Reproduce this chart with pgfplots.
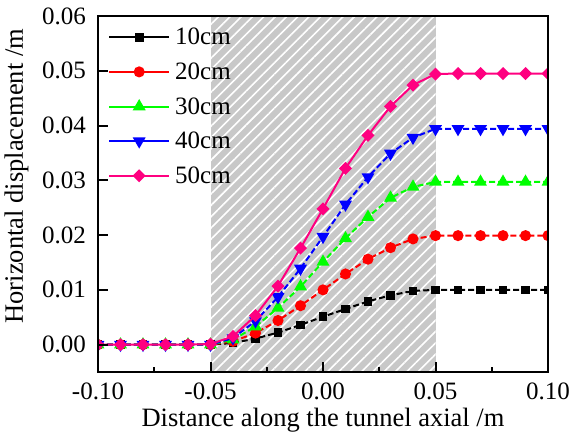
\documentclass[border=0pt]{standalone}
\usepackage{fontspec}
\setmainfont{Liberation Serif}
\usepackage{pgfplots}
\pgfplotsset{compat=1.18}
\usetikzlibrary{patterns.meta}
\definecolor{hatchgray}{RGB}{200,200,200}
\definecolor{cgreen}{RGB}{0,255,0}
\definecolor{cpink}{RGB}{255,0,128}
\begin{document}
\begin{tikzpicture}
\useasboundingbox (-98pt,-67pt) rectangle (474pt,372pt);
\begin{axis}[
  scale only axis,
  width=450pt, height=356pt,
  xmin=-0.1, xmax=0.1, ymin=-0.005, ymax=0.06,
  xtick={-0.1,-0.05,0,0.05,0.1},
  minor x tick num=1,
  ytick={0,0.01,0.02,0.03,0.04,0.05,0.06},
  scaled ticks=false,
  xtick pos=bottom, ytick pos=left,
  tick align=inside,
  major tick length=10pt, minor tick length=5pt,
  every tick/.style={line width=2pt, black},
  axis line style={line width=2pt},
  axis on top,
  clip marker paths=true,
  /pgf/number format/.cd, fixed, fixed zerofill, precision=2, assume math mode=true,
  /pgfplots/.cd,
  ticklabel style={font=\fontsize{25}{30}\selectfont, inner sep=0pt},
  yticklabel style={anchor=east, xshift=-12pt},
  xticklabel style={anchor=north, yshift=-11pt},
  xlabel={Distance along the tunnel axial /m},
  ylabel={Horizontal displacement /m},
  label style={font=\fontsize{26.5}{32}\selectfont},
  xlabel style={at={(rel axis cs:0.5,0)}, anchor=center, yshift=-48pt},
  ylabel style={at={(rel axis cs:0,0.55)}, anchor=center, rotate=0, yshift=81.5pt},
  legend style={at={(rel axis cs:0,1)}, anchor=north west, xshift=7pt, yshift=-8pt,
    draw=none, fill=none, font=\fontsize{25}{30}\selectfont,
    row sep=12.5pt, nodes={inner sep=2pt},
    /tikz/every odd column/.append style={column sep=3pt}},
  legend cell align=left,
  legend image code/.code={\draw[mark repeat=2,mark phase=2,#1,solid] plot coordinates {(0pt,0pt) (30pt,0pt) (60pt,0pt)};},
]
\addplot[forget plot, draw=none, fill=hatchgray,
  postaction={pattern color=white, pattern={Lines[angle=45,distance=8pt,line width=1.6pt]}}]
  coordinates {(-0.05,-0.005) (0.05,-0.005) (0.05,0.06) (-0.05,0.06)} -- cycle;

\addplot[black, line width=2pt, dash pattern=on 6pt off 3pt, mark=square*, mark size=3.3pt, mark options={solid}]
coordinates {(-0.10,0) (-0.09,0) (-0.08,0) (-0.07,0) (-0.06,0) (-0.05,0)
 (-0.04,0.0003) (-0.03,0.0011) (-0.02,0.0022) (-0.01,0.0036) (0,0.0051)
 (0.01,0.0065) (0.02,0.0079) (0.03,0.0090) (0.04,0.0098) (0.05,0.0100)
 (0.06,0.0100) (0.07,0.0100) (0.08,0.0100) (0.09,0.0100) (0.10,0.0100)};
\addlegendentry{10cm}
\addplot[red, line width=2pt, dash pattern=on 6pt off 3pt, mark=*, mark size=4.5pt, mark options={solid}]
coordinates {(-0.10,0) (-0.09,0) (-0.08,0) (-0.07,0) (-0.06,0) (-0.05,0)
 (-0.04,0.0006) (-0.03,0.0021) (-0.02,0.0044) (-0.01,0.0071) (0,0.0100)
 (0.01,0.0129) (0.02,0.0156) (0.03,0.0177) (0.04,0.0193) (0.05,0.0199)
 (0.06,0.0199) (0.07,0.0199) (0.08,0.0199) (0.09,0.0199) (0.10,0.0199)};
\addlegendentry{20cm}
\addplot[cgreen, line width=2pt, dash pattern=on 6pt off 3pt, mark=triangle*, mark size=5.5pt, mark options={solid}]
coordinates {(-0.10,0) (-0.09,0) (-0.08,0) (-0.07,0) (-0.06,0) (-0.05,0)
 (-0.04,0.0009) (-0.03,0.0033) (-0.02,0.0067) (-0.01,0.0106) (0,0.0151)
 (0.01,0.0194) (0.02,0.0233) (0.03,0.0268) (0.04,0.0288) (0.05,0.0297)
 (0.06,0.0297) (0.07,0.0297) (0.08,0.0297) (0.09,0.0297) (0.10,0.0297)};
\addlegendentry{30cm}
\addplot[blue, line width=2pt, dash pattern=on 6pt off 3pt, mark=triangle*, mark size=5.5pt, mark options={solid, rotate=180}]
coordinates {(-0.10,0) (-0.09,0) (-0.08,0) (-0.07,0) (-0.06,0) (-0.05,0)
 (-0.04,0.0012) (-0.03,0.0043) (-0.02,0.0087) (-0.01,0.0139) (0,0.0197)
 (0.01,0.0256) (0.02,0.0306) (0.03,0.0349) (0.04,0.0378) (0.05,0.0394)
 (0.06,0.0394) (0.07,0.0394) (0.08,0.0394) (0.09,0.0394) (0.10,0.0394)};
\addlegendentry{40cm}
\addplot[cpink, line width=2pt, mark=square*, mark size=3.6pt, mark options={solid, rotate=45}]
coordinates {(-0.10,0) (-0.09,0) (-0.08,0) (-0.07,0) (-0.06,0) (-0.05,0.0001)
 (-0.04,0.0015) (-0.03,0.0053) (-0.02,0.0107) (-0.01,0.0176) (0,0.0248)
 (0.01,0.0322) (0.02,0.0382) (0.03,0.0435) (0.04,0.0474) (0.05,0.0494)
 (0.06,0.0495) (0.07,0.0495) (0.08,0.0495) (0.09,0.0495) (0.10,0.0495)};
\addlegendentry{50cm}
\end{axis}
\end{tikzpicture}
\end{document}
